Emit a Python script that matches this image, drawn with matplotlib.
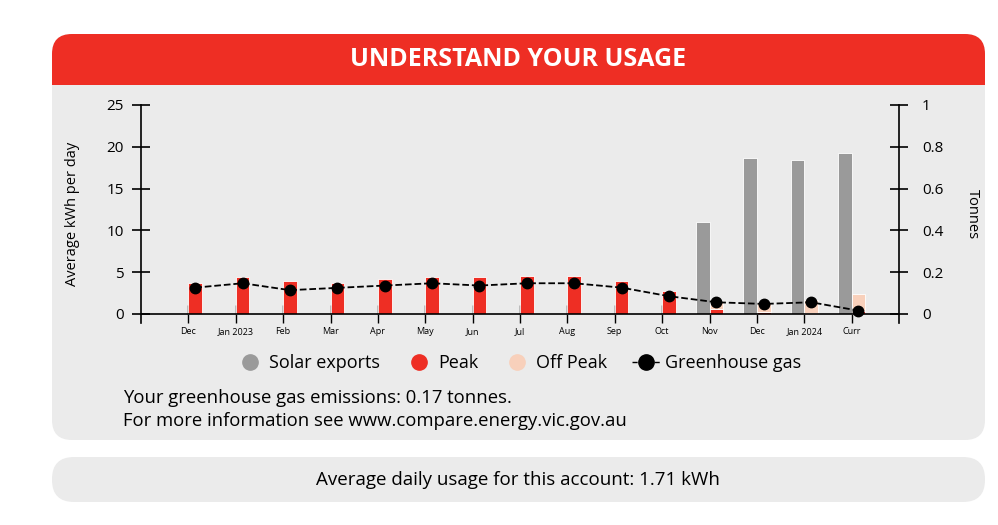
import numpy as np
import matplotlib.pyplot as plt
from matplotlib.patches import FancyBboxPatch, Rectangle
from matplotlib.lines import Line2D

plt.rcParams['font.family'] = ['Open Sans', 'DejaVu Sans']

# data
months = ['Dec', 'Jan 2023', 'Feb', 'Mar', 'Apr', 'May', 'Jun', 'Jul', 'Aug',
          'Sep', 'Oct', 'Nov', 'Dec', 'Jan 2024', 'Curr']
solar = [0, 0, 0, 0, 0, 0, 0, 0, 0, 0, 0, 11.0, 18.6, 18.4, 19.3]
peak = [3.76, 4.4, 3.92, 3.76, 4.2, 4.4, 4.4, 4.52, 4.52, 3.92, 2.8, 0.65, 0.28, 0.15, 0.3]
offpeak = [0, 0, 0, 0, 0, 0, 0, 0, 0, 0, 0, 0.9, 1.0, 1.5, 2.1]
ghg = [0.126, 0.147, 0.114, 0.125, 0.136, 0.147, 0.136, 0.147, 0.147, 0.126,
       0.085, 0.056, 0.048, 0.056, 0.016]

RED = '#ee2e24'
GREY = '#9a9a9a'
PINK = '#f8d0bb'
PANEL = '#ebebeb'

fig = plt.figure(figsize=(9.98, 5.25), dpi=100)

# background boxes drawn in pixel units
bg = fig.add_axes([0, 0, 1, 1], zorder=-1)
bg.set_xlim(0, 998)
bg.set_ylim(525, 0)
bg.axis('off')
bg.add_patch(FancyBboxPatch((52 + 20, 34 + 20), 933 - 40, 406 - 40,
                            boxstyle='round,pad=20', fc=PANEL, ec='none'))
bg.add_patch(FancyBboxPatch((52 + 20, 34 + 20), 933 - 40, 40,
                            boxstyle='round,pad=20', fc=RED, ec='none'))
bg.add_patch(Rectangle((52, 85), 933, 40, fc=PANEL, ec='none'))
bg.add_patch(FancyBboxPatch((52 + 22, 457 + 22), 933 - 44, 45 - 44,
                            boxstyle='round,pad=22', fc=PANEL, ec='none'))
bg.text(518, 60, 'UNDERSTAND YOUR USAGE', color='white', fontsize=18,
        fontweight='bold', ha='center', va='center')
bg.text(123, 398, 'Your greenhouse gas emissions: 0.17 tonnes.', fontsize=13.3,
        ha='left', va='center')
bg.text(123, 421, 'For more information see www.compare.energy.vic.gov.au',
        fontsize=13.3, ha='left', va='center')
bg.text(518, 480, 'Average daily usage for this account: 1.71 kWh', fontsize=13.5,
        ha='center', va='center')

ax = fig.add_axes([141 / 998, 1 - 323 / 525, 758 / 998, 218 / 525])
ax.set_facecolor('none')
x = np.arange(len(months))
w = 0.29
sol = np.array(solar)
pk = np.array(peak)
op = np.array(offpeak)
m = sol > 0
ax.bar(x[m] - w / 2, sol[m], w, color=GREY, edgecolor='white', linewidth=0.6, zorder=2)
ax.bar(x + w / 2, pk, w, color=RED, edgecolor='white', linewidth=0.6, zorder=2)
m = op > 0
ax.bar(x[m] + w / 2, op[m], w, bottom=pk[m], color=PINK, edgecolor='white',
       linewidth=0.6, zorder=2)
ax.axhline(0, color='black', lw=1.2, zorder=3)

ymin, ymax = -1.08, 25
ax.set_xlim(-1, 15)
ax.set_ylim(ymin, ymax)
ax.set_yticks(range(0, 26, 5))
ax.set_xticks(x)
ax.set_xticklabels(months, fontsize=6.5)
ax.tick_params(axis='x', direction='in', length=13, width=1, pad=3)
ax.tick_params(axis='y', direction='inout', length=13, width=1.2, labelsize=11, pad=6)
for s in ['top', 'bottom', 'right']:
    ax.spines[s].set_visible(False)
ax.spines['left'].set_linewidth(1.2)
ax.set_ylabel('Average kWh per day', fontsize=10.5, labelpad=19)

ax2 = ax.twinx()
ax2.set_ylim(ymin / 25, ymax / 25)
ax2.plot(x + w / 2, ghg, color='black', ls='--', lw=1.3, marker='o',
         markersize=7.5, zorder=4)
ax2.set_yticks([0, 0.2, 0.4, 0.6, 0.8, 1])
ax2.set_yticklabels(['0', '0.2', '0.4', '0.6', '0.8', '1'])
ax2.tick_params(axis='y', direction='inout', length=13, width=1.2, labelsize=11, pad=10)
for s in ['top', 'bottom', 'left']:
    ax2.spines[s].set_visible(False)
ax2.spines['right'].set_linewidth(1.2)
ax2.set_ylabel('Tonnes', fontsize=10.5, rotation=-90, labelpad=26)

handles = [
    Line2D([], [], ls='none', marker='o', color=GREY, markersize=11),
    Line2D([], [], ls='none', marker='o', color=RED, markersize=11),
    Line2D([], [], ls='none', marker='o', color=PINK, markersize=11),
    Line2D([], [], ls='--', lw=1, marker='o', color='black', markersize=11),
]
fig.legend(handles, ['Solar exports', 'Peak', 'Off Peak', 'Greenhouse gas'],
           loc='center', bbox_to_anchor=(519 / 998, 1 - 363 / 525), ncol=4,
           frameon=False, fontsize=13, handlelength=1.5, handletextpad=0.3,
           columnspacing=1.4)

fig.savefig('out.png', dpi=100)
